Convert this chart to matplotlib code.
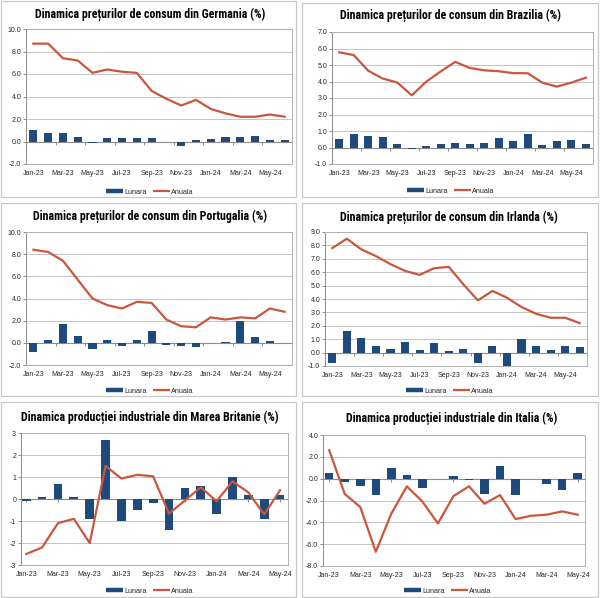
import matplotlib
matplotlib.use('Agg')
import matplotlib.pyplot as plt
from matplotlib import font_manager as fm
from matplotlib.lines import Line2D
from matplotlib.patches import Rectangle
import numpy as np

W, H = 600, 598

# etichete axa x (din 2 in 2 luni)
labels_x = ['Jan-23', 'Mar-23', 'May-23', 'Jul-23', 'Sep-23', 'Nov-23',
            'Jan-24', 'Mar-24', 'May-24']

# preturi de consum: ian-23 .. iun-24 (18 luni)
ger_lunara = [1.0, 0.8, 0.8, 0.4, -0.1, 0.3, 0.3, 0.3, 0.3, 0.0, -0.4, 0.1,
              0.2, 0.4, 0.4, 0.5, 0.1, 0.1]
ger_anuala = [8.7, 8.7, 7.4, 7.2, 6.1, 6.4, 6.2, 6.1, 4.5, 3.8, 3.2, 3.7,
              2.9, 2.5, 2.2, 2.2, 2.4, 2.2]

bra_lunara = [0.53, 0.84, 0.71, 0.61, 0.23, -0.08, 0.12, 0.23, 0.26, 0.24, 0.28, 0.56,
              0.42, 0.83, 0.16, 0.38, 0.46, 0.21]
bra_anuala = [5.77, 5.60, 4.65, 4.18, 3.94, 3.16, 3.99, 4.61, 5.19, 4.82, 4.68, 4.62,
              4.51, 4.50, 3.93, 3.69, 3.93, 4.23]

por_lunara = [-0.8, 0.3, 1.7, 0.6, -0.6, 0.3, -0.3, 0.3, 1.1, -0.2, -0.3, -0.4,
              0.0, 0.1, 2.0, 0.5, 0.2, 0.0]
por_anuala = [8.4, 8.2, 7.4, 5.7, 4.0, 3.4, 3.1, 3.7, 3.6, 2.1, 1.5, 1.4,
              2.3, 2.1, 2.3, 2.2, 3.1, 2.8]

irl_lunara = [-0.8, 1.6, 1.1, 0.5, 0.3, 0.8, 0.2, 0.7, 0.1, 0.3, -0.8, 0.5,
              -1.0, 1.0, 0.5, 0.2, 0.5, 0.4]
irl_anuala = [7.8, 8.5, 7.7, 7.2, 6.6, 6.1, 5.8, 6.3, 6.4, 5.1, 3.9, 4.6,
              4.1, 3.4, 2.9, 2.6, 2.6, 2.2]

# productie industriala: ian-23 .. mai-24 (17 luni)
uk_lunara = [-0.1, 0.1, 0.7, 0.1, -0.9, 2.7, -1.0, -0.5, -0.2, -1.4, 0.5, 0.6,
             -0.7, 1.0, 0.2, -0.9, 0.2]
uk_anuala = [-2.5, -2.2, -1.1, -0.9, -2.0, 1.5, 0.93, 1.1, 1.03, -0.66, -0.07, 0.53,
             -0.1, 0.8, 0.3, -0.7, 0.4]

ita_lunara = [0.5, -0.3, -0.7, -1.5, 1.0, 0.3, -0.9, 0.0, 0.2, -0.1, -1.4, 1.2,
              -1.5, 0.0, -0.5, -1.0, 0.5]
ita_anuala = [2.6, -1.4, -2.6, -6.7, -3.2, -0.7, -2.1, -4.1, -1.6, -0.7, -2.3, -1.5,
              -3.7, -3.4, -3.3, -3.0, -3.3]

BLUE = '#1F4A7C'
RED = '#C9573C'
GRID = '#C4C4C4'
AXC = '#8C8C8C'
TXT = '#262626'

plt.rcParams['font.family'] = ['Liberation Sans', 'DejaVu Sans']

# font ingust pentru titluri, daca exista
installed = {f.name for f in fm.fontManager.ttflist}
title_font = 'Liberation Sans'
for cand in ['Arial Narrow', 'Liberation Sans Narrow', 'Roboto Condensed',
             'Archivo Narrow', 'PT Sans Narrow', 'Fira Sans Condensed',
             'IBM Plex Sans Condensed', 'Encode Sans Condensed']:
    if cand in installed:
        title_font = cand
        break

fig = plt.figure(figsize=(W / 100, H / 100), dpi=100)
fig.patch.set_facecolor('white')


def fig_rect(l, t, r, b):
    return [l / W, 1 - b / H, (r - l) / W, (b - t) / H]


def panel(title, lunara, anuala, plot_box, title_xy, legend_xy, border,
          ylim, ystep, yfmt, xlim, date_axis=False):
    fig.add_artist(Rectangle((border[0] / W, 1 - border[3] / H),
                             (border[2] - border[0]) / W, (border[3] - border[1]) / H,
                             transform=fig.transFigure, fill=False,
                             ec='#C8C8C8', lw=0.9))
    fig.text(title_xy[0] / W, 1 - title_xy[1] / H, title, ha='center', va='center',
             fontsize=8.6, fontweight='bold', color='black',
             family=[title_font, 'DejaVu Sans'])

    ax = fig.add_axes(fig_rect(*plot_box))
    x = np.arange(len(lunara))
    ax.bar(x, lunara, width=0.55, color=BLUE, zorder=2)
    ax.plot(x, anuala, color=RED, lw=1.6, zorder=3, solid_joinstyle='round')

    ax.set_xlim(*xlim)
    ax.set_ylim(*ylim)
    yt = np.arange(ylim[0], ylim[1] + ystep / 2, ystep)
    ax.set_yticks(yt)
    ax.set_yticklabels([yfmt % v for v in yt])
    ax.set_xticks(np.arange(0, len(lunara), 2))
    ax.set_xticklabels(labels_x)
    ax.tick_params(axis='x', length=0, pad=4.5, labelsize=5, labelcolor=TXT)
    ax.tick_params(axis='y', length=2, width=0.7, color=AXC, pad=1.5,
                   labelsize=5, labelcolor=TXT)
    ax.yaxis.grid(True, color=GRID, lw=0.7)
    ax.set_axisbelow(True)
    for s in ax.spines.values():
        s.set_color('#B0B0B0')
        s.set_linewidth(0.7)
    ax.spines['left'].set_color(AXC)

    # axa categoriilor la zero, cu semne de diviziune
    ax.axhline(0, color=AXC, lw=0.8, zorder=1.5)
    if date_axis:
        tx = np.arange(0, len(lunara), 2)
    else:
        tx = np.arange(-0.5, len(lunara), 2)
    ax.plot(tx, np.zeros(len(tx)), ls='none', marker=3, ms=2.5, mew=0.7,
            color=AXC, zorder=1.5, clip_on=False)

    handles = [Line2D([], [], color=BLUE, lw=3.2, solid_capstyle='butt'),
               Line2D([], [], color=RED, lw=1.6, solid_capstyle='butt')]
    fig.legend(handles, ['Lunara', 'Anuala'], loc='center',
               bbox_to_anchor=(legend_xy[0] / W, 1 - legend_xy[1] / H),
               bbox_transform=fig.transFigure, ncol=2, frameon=False,
               fontsize=5.2, handlelength=2.3, handletextpad=0.25,
               columnspacing=0.8, borderpad=0, labelcolor=TXT)
    return ax


panel('Dinamica prețurilor de consum din Germania (%)', ger_lunara, ger_anuala,
      (26, 29, 292, 164), (150, 14), (150, 192), (1, 1, 296, 197),
      (-2, 10), 2, '%.1f', (-0.5, 17.5))
panel('Dinamica prețurilor de consum din Brazilia (%)', bra_lunara, bra_anuala,
      (332, 32, 593, 164), (451, 15), (451, 191), (302, 3, 598, 197),
      (-1, 7), 1, '%.1f', (-0.5, 17.5))
panel('Dinamica prețurilor de consum din Portugalia (%)', por_lunara, por_anuala,
      (26, 232, 292, 365), (150, 216), (150, 391), (1, 203, 296, 396),
      (-2, 10), 2, '%.1f', (-0.5, 17.5))
panel('Dinamica prețurilor de consum din Irlanda (%)', irl_lunara, irl_anuala,
      (325, 232, 587, 366), (449, 217), (450, 391), (302, 203, 598, 396),
      (-1, 9), 1, '%.1f', (-0.5, 17.5))
panel('Dinamica producției industriale din Marea Britanie (%)', uk_lunara, uk_anuala,
      (21, 433, 288, 565), (150, 417), (150, 591), (1, 402, 296, 597),
      (-3, 3), 1, '%d', (-0.33, 16.5), date_axis=True)
panel('Dinamica producției industriale din Italia (%)', ita_lunara, ita_anuala,
      (323, 435, 585, 566), (452, 418), (448, 591), (302, 402, 598, 597),
      (-8, 4), 2, '%.1f', (-0.4, 16.47), date_axis=True)

fig.savefig('out.png', dpi=100, facecolor='white')
